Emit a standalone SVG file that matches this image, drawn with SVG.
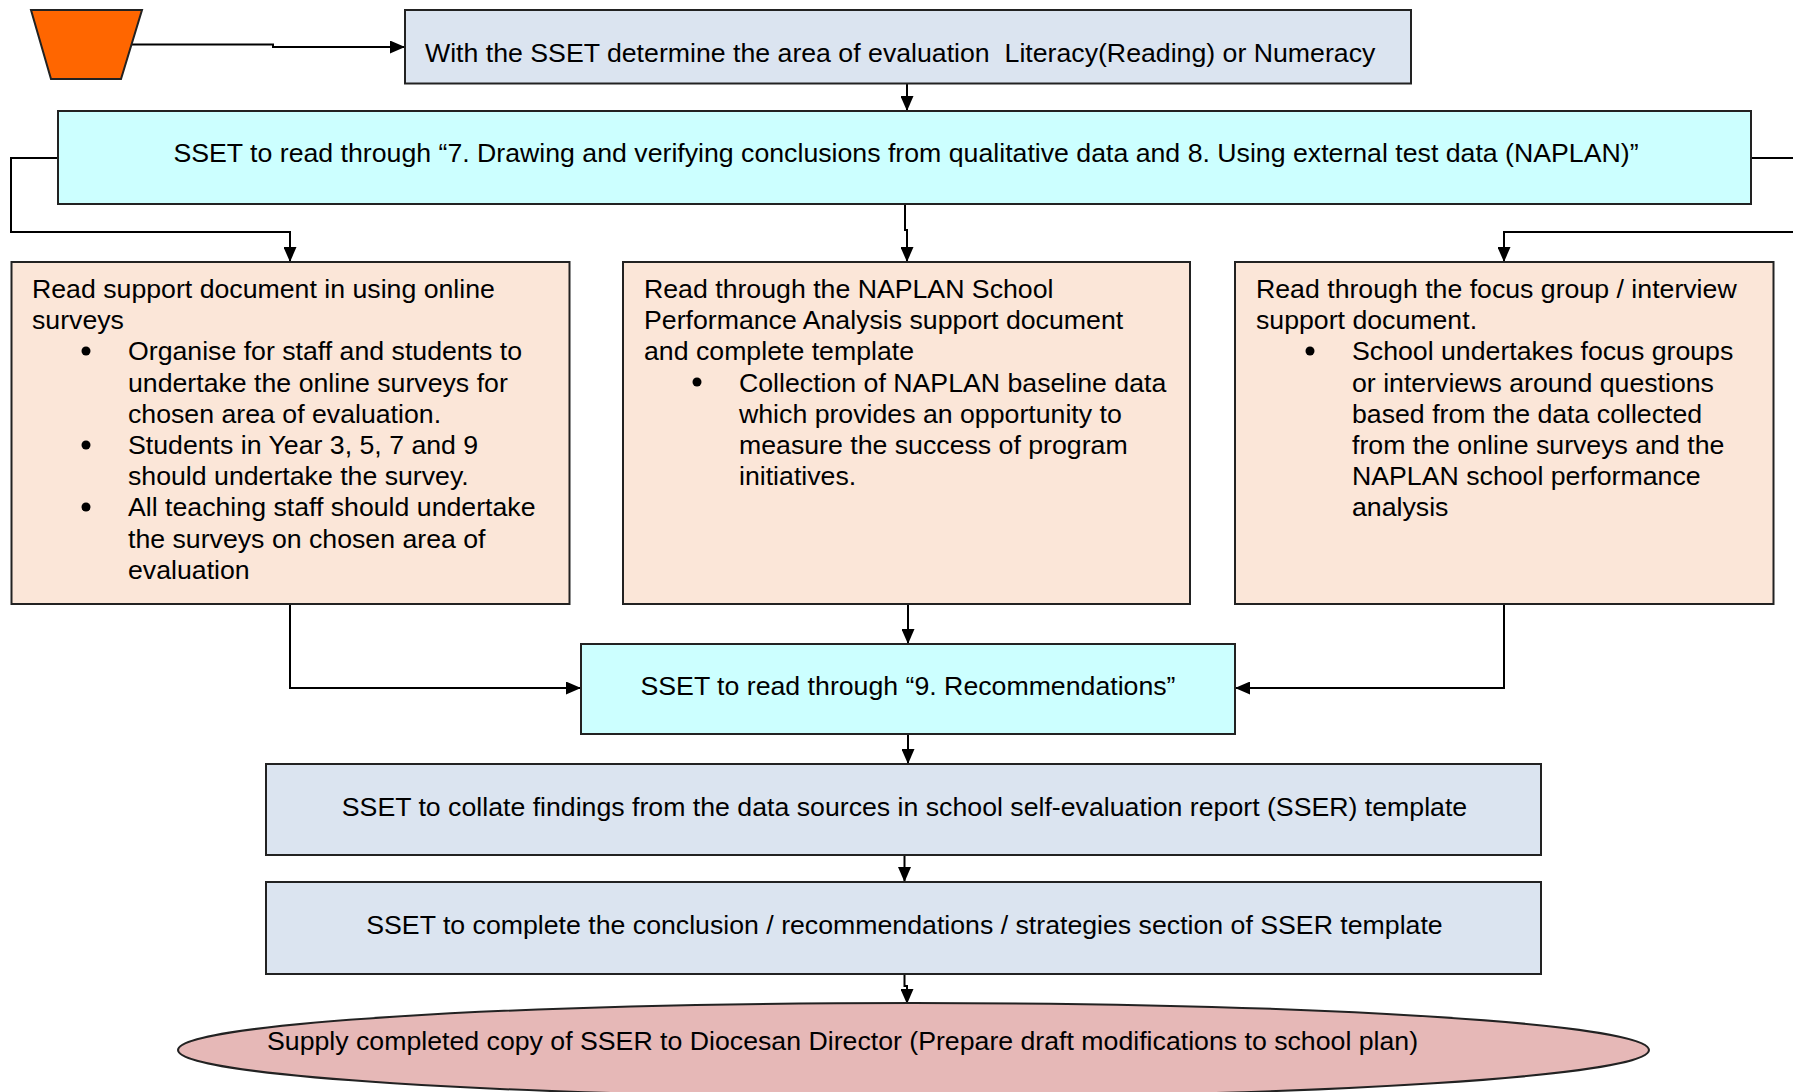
<svg xmlns="http://www.w3.org/2000/svg" width="1793" height="1092" viewBox="0 0 1793 1092">
<style>
text{font-family:"Liberation Sans",Arial,sans-serif;font-size:26.7px;fill:#000}
.box{stroke:#222;stroke-width:2}
.b1{fill:#DBE4F0}
.b2{fill:#CCFFFF}
.b3{fill:#FBE6D8}
.c{fill:none;stroke:#000;stroke-width:2}
.m{text-anchor:middle}
</style>
<defs>
<marker id="ah" viewBox="0 0 15 13" refX="15" refY="6.5" markerWidth="15" markerHeight="13" orient="auto" markerUnits="userSpaceOnUse"><path d="M0,0 L15,6.5 L0,13 z" fill="#000"/></marker>
</defs>
<g id="connectors">
<polyline class="c" points="131,44.5 273,44.5 273,47 405,47" marker-end="url(#ah)"/>
<line class="c" x1="907" y1="84" x2="907" y2="111" marker-end="url(#ah)"/>
<polyline class="c" points="58,158 11,158 11,232 290,232 290,262" marker-end="url(#ah)"/>
<polyline class="c" points="905,204 905,230 907,230 907,262" marker-end="url(#ah)"/>
<line class="c" x1="1751" y1="158" x2="1793" y2="158"/>
<polyline class="c" points="1793,232 1504,232 1504,262" marker-end="url(#ah)"/>
<polyline class="c" points="290,604 290,688 581,688" marker-end="url(#ah)"/>
<line class="c" x1="908" y1="604" x2="908" y2="644" marker-end="url(#ah)"/>
<polyline class="c" points="1504,604 1504,688 1235,688" marker-end="url(#ah)"/>
<line class="c" x1="908" y1="734" x2="908" y2="764" marker-end="url(#ah)"/>
<line class="c" x1="904.5" y1="855" x2="904.5" y2="882" marker-end="url(#ah)"/>
<polyline class="c" points="904.5,974 904.5,986 907,986 907,1004" marker-end="url(#ah)"/>
</g>
<g id="start">
<polygon points="31,10 142,10 121,79 51,79" fill="#FF6600" stroke="#222" stroke-width="2"/>
</g>
<g id="n1">
<rect class="box b1" x="405" y="10" width="1006" height="73.5"/>
<text x="425" y="61.5" xml:space="preserve">With the SSET determine the area of evaluation  Literacy(Reading) or Numeracy</text>
</g>
<g id="n2">
<rect class="box b2" x="58" y="111" width="1693" height="93"/>
<text class="m" x="906" y="161.5">SSET to read through “7. Drawing and verifying conclusions from qualitative data and 8. Using external test data (NAPLAN)”</text>
</g>
<g id="n3">
<rect class="box b3" x="11.5" y="262" width="558" height="342"/>
<text x="32" y="298">Read support document in using online</text>
<text x="32" y="329.2">surveys</text>
<circle cx="86" cy="351" r="4.5"/>
<text x="128" y="360.4">Organise for staff and students to</text>
<text x="128" y="391.6">undertake the online surveys for</text>
<text x="128" y="422.8">chosen area of evaluation.</text>
<circle cx="86" cy="445" r="4.5"/>
<text x="128" y="454">Students in Year 3, 5, 7 and 9</text>
<text x="128" y="485.2">should undertake the survey.</text>
<circle cx="86" cy="507" r="4.5"/>
<text x="128" y="516.4">All teaching staff should undertake</text>
<text x="128" y="547.6">the surveys on chosen area of</text>
<text x="128" y="578.8">evaluation</text>
</g>
<g id="n4">
<rect class="box b3" x="623" y="262" width="567" height="342"/>
<text x="644" y="298">Read through the NAPLAN School</text>
<text x="644" y="329.2">Performance Analysis support document</text>
<text x="644" y="360.4">and complete template</text>
<circle cx="697" cy="382" r="4.5"/>
<text x="739" y="391.6">Collection of NAPLAN baseline data</text>
<text x="739" y="422.8">which provides an opportunity to</text>
<text x="739" y="454">measure the success of program</text>
<text x="739" y="485.2">initiatives.</text>
</g>
<g id="n5">
<rect class="box b3" x="1235" y="262" width="538.5" height="342"/>
<text x="1256" y="298">Read through the focus group / interview</text>
<text x="1256" y="329.2">support document.</text>
<circle cx="1310" cy="351" r="4.5"/>
<text x="1352" y="360.4">School undertakes focus groups</text>
<text x="1352" y="391.6">or interviews around questions</text>
<text x="1352" y="422.8">based from the data collected</text>
<text x="1352" y="454">from the online surveys and the</text>
<text x="1352" y="485.2">NAPLAN school performance</text>
<text x="1352" y="516.4">analysis</text>
</g>
<g id="n6">
<rect class="box b2" x="581" y="644" width="654" height="90"/>
<text class="m" x="908" y="695">SSET to read through “9. Recommendations”</text>
</g>
<g id="n7">
<rect class="box b1" x="266" y="764" width="1275" height="91"/>
<text class="m" x="904.5" y="816">SSET to collate findings from the data sources in school self-evaluation report (SSER) template</text>
</g>
<g id="n8">
<rect class="box b1" x="266" y="882" width="1275" height="92"/>
<text class="m" x="904.5" y="934">SSET to complete the conclusion / recommendations / strategies section of SSER template</text>
</g>
<g id="end">
<ellipse cx="913.5" cy="1050" rx="735.5" ry="47" fill="#E6B8B7" stroke="#222" stroke-width="2"/>
<text x="267" y="1049.5">Supply completed copy of SSER to Diocesan Director (Prepare draft modifications to school plan)</text>
</g>
</svg>
